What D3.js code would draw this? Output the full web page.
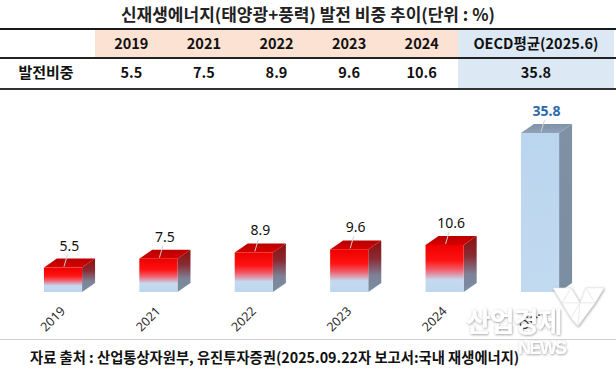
<!DOCTYPE html>
<html><head><meta charset="utf-8">
<script src="https://cdn.jsdelivr.net/npm/d3@7"></script>
<style>
html,body{margin:0;padding:0;background:#fff;}
svg{display:block;}
</style></head>
<body>
<script>
// ---- data ----
const title = "신재생에너지(태양광+풍력) 발전 비중 추이(단위 : %)";
const categories = ["2019", "2021", "2022", "2023", "2024", "OECD평균(2025.6)"];
const values = [5.5, 7.5, 8.9, 9.6, 10.6, 35.8];
const axisLabels = ["2019", "2021", "2022", "2023", "2024", "OE..."];
const rowLabel = "발전비중";
const source = "자료 출처 : 산업통상자원부, 유진투자증권(2025.09.22자 보고서:국내 재생에너지)";
const watermark = ["산업경제", "NEWS"];

// ---- layout ----
const W = 616, H = 370;
const KFONT = "'Noto Sans CJK KR','Noto Sans',sans-serif";
const NFONT = "'Noto Sans','Open Sans',sans-serif";
const svg = d3.select("body").append("svg").attr("width", W).attr("height", H);

const defs = svg.append("defs");
function grad(id, stops) {
  const g = defs.append("linearGradient").attr("id", id)
    .attr("x1", 0).attr("y1", 0).attr("x2", 0).attr("y2", 1);
  stops.forEach(s => g.append("stop").attr("offset", s[0]).attr("stop-color", s[1]));
}
grad("redFront", [[0, "#ee0000"], [0.33, "#ff1212"], [0.52, "#f25a68"], [0.74, "#c5d9ef"], [1, "#bdd7ee"]]);
grad("redSide", [[0, "#8a1010"], [0.35, "#8a2a32"], [0.68, "#7d8296"], [1, "#7a8fa4"]]);
grad("redTop", [[0, "#b80000"], [1, "#d60000"]]);
grad("blueFront", [[0, "#bad5ee"], [1, "#c2daf0"]]);
grad("blueSide", [[0, "#7f91a5"], [1, "#7b8da0"]]);
grad("blueTop", [[0, "#7f92a8"], [1, "#8fa2b8"]]);
const shadow = defs.append("filter").attr("id", "wmShadow").attr("x", "-10%").attr("y", "-10%")
  .attr("width", "120%").attr("height", "130%");
shadow.append("feDropShadow").attr("dx", 0.5).attr("dy", 0.8).attr("stdDeviation", 0.9)
  .attr("flood-color", "#555").attr("flood-opacity", 0.6);

// title
svg.append("text").attr("x", 308).attr("y", 20.5).attr("text-anchor", "middle")
  .attr("font-family", KFONT).attr("font-weight", "bold").attr("font-size", 17)
  .attr("fill", "#222").text(title);

// ---- table ----
const yearCols = d3.scaleBand().domain(categories.slice(0, 5)).range([95, 458]);
const colX = c => c === categories[5] ? 536 : yearCols(c) + yearCols.bandwidth() / 2;
const table = svg.append("g");
table.append("rect").attr("x", 95).attr("y", 30).attr("width", 363).attr("height", 28).attr("fill", "#fbe2d3");
table.append("rect").attr("x", 458).attr("y", 30).attr("width", 156).attr("height", 28).attr("fill", "#dce9f5");
table.append("rect").attr("x", 458).attr("y", 59).attr("width", 156).attr("height", 29).attr("fill", "#dce9f5");
[[29, 2.2, "#1a1a1a"], [58, 2, "#222"], [89, 1.8, "#333"]].forEach(([y, w, c]) =>
  table.append("line").attr("x1", 0).attr("x2", W).attr("y1", y).attr("y2", y)
    .attr("stroke", c).attr("stroke-width", w));
table.selectAll("text.h").data(categories).join("text")
  .attr("x", d => colX(d)).attr("y", 49).attr("text-anchor", "middle")
  .attr("font-family", KFONT).attr("font-weight", "bold").attr("font-size", 14.5)
  .attr("fill", "#111").text(d => d);
table.selectAll("text.v").data(values).join("text")
  .attr("x", (d, i) => colX(categories[i])).attr("y", 78).attr("text-anchor", "middle")
  .attr("font-family", KFONT).attr("font-weight", "bold").attr("font-size", 14.5)
  .attr("fill", "#111").text(d => d);
table.append("text").attr("x", 46).attr("y", 78).attr("text-anchor", "middle")
  .attr("font-family", KFONT).attr("font-weight", "bold").attr("font-size", 15)
  .attr("fill", "#111").text(rowLabel);

// ---- 3D bars ----
const x = d3.scaleBand().domain(categories).range([15.3, 587.7]).paddingInner(0.6).paddingOuter(0.3);
const y = d3.scaleLinear().domain([0, 40]).range([292, 114.4]);
const DX = 13, DY = 9;
const bars = svg.append("g");
categories.forEach((c, i) => {
  const v = values[i];
  const x0 = x(c), w = x.bandwidth(), x1 = x0 + w;
  const yt = y(v), yb = y(0);
  const oecd = i === 5;
  const g = bars.append("g");
  g.append("polygon").attr("points", [[x1, yt], [x1 + DX, yt - DY], [x1 + DX, yb - DY], [x1, yb]].join(" "))
    .attr("fill", oecd ? "url(#blueSide)" : "url(#redSide)");
  g.append("polygon").attr("points", [[x0, yt], [x0 + DX, yt - DY], [x1 + DX, yt - DY], [x1, yt]].join(" "))
    .attr("fill", oecd ? "url(#blueTop)" : "url(#redTop)");
  g.append("rect").attr("x", x0).attr("y", yt).attr("width", w).attr("height", yb - yt)
    .attr("fill", oecd ? "url(#blueFront)" : "url(#redFront)");
  const cx = x0 + w / 2;
  g.append("line").attr("x1", cx + 4.5).attr("y1", yt - DY - 4).attr("x2", cx + 1).attr("y2", yt - 1)
    .attr("stroke", "#d0d0d0").attr("stroke-width", 1);
  g.append("text").attr("x", cx + 6.5).attr("y", yt - DY - 8).attr("text-anchor", "middle")
    .attr("font-family", NFONT).attr("font-size", 14)
    .attr("font-weight", oecd ? "bold" : "normal")
    .attr("fill", oecd ? "#2e6aa8" : "#111").text(v);
  g.append("text").attr("transform", `translate(${cx + 3},${312}) rotate(-45)`)
    .attr("text-anchor", "end").attr("font-family", NFONT).attr("font-size", 12.5)
    .attr("fill", "#2a2a2a").text(axisLabels[i]);
});

// ---- footer ----
svg.append("line").attr("x1", 0).attr("x2", W).attr("y1", 339.5).attr("y2", 339.5)
  .attr("stroke", "#cfcfcf").attr("stroke-width", 1);
svg.append("text").attr("x", 30).attr("y", 363)
  .attr("font-family", KFONT).attr("font-weight", "bold").attr("font-size", 14.3)
  .attr("fill", "#111").text(source);

// watermark (publisher mark drawn over the chart)
const wm = svg.append("g").attr("filter", "url(#wmShadow)");
const logo = [
  [[553, 288], [571, 288], [562, 303]],
  [[571, 288], [562, 303], [580, 303]],
  [[562, 303], [580, 303], [571, 318]],
  [[580, 303], [571, 318], [578, 326]],
  [[586, 288], [604, 288], [595, 303]],
  [[586, 288], [595, 303], [580, 303]],
  [[580, 303], [595, 303], [578, 326]]
];
wm.selectAll("polygon").data(logo).join("polygon")
  .attr("points", d => d.join(" ")).attr("fill", "#fff")
  .attr("stroke", "#e6e6e6").attr("stroke-width", 0.6);
wm.append("text").attr("x", 466).attr("y", 332).attr("font-family", KFONT).attr("font-weight", "bold")
  .attr("font-size", 27).attr("letter-spacing", -1).attr("fill", "#fff").text(watermark[0]);
wm.append("text").attr("x", 518).attr("y", 354).attr("font-family", "'Liberation Sans Narrow','Liberation Sans',sans-serif")
  .attr("font-weight", "bold").attr("font-size", 18).attr("textLength", 49)
  .attr("fill", "#fff").text(watermark[1]);
</script>
</body></html>
